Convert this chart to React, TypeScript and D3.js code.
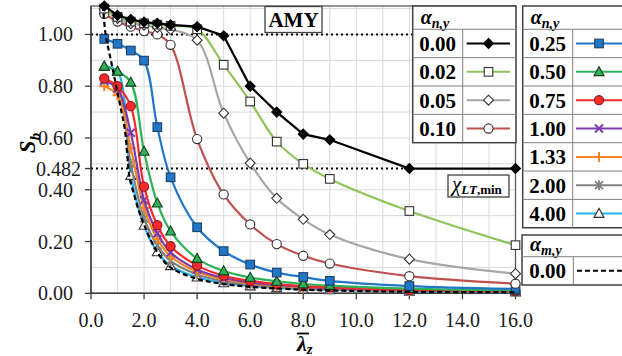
import React from "react";
import * as d3 from "d3";

// ---------- data ----------
const lambdas = [0.5, 1, 1.5, 2, 2.5, 3, 4, 5, 6, 7, 8, 9, 12, 16];

const s000 = [1.11, 1.074, 1.058, 1.048, 1.043, 1.037, 1.03, 0.995, 0.8, 0.7, 0.615, 0.593, 0.482, 0.482];
const s002 = [1.1, 1.068, 1.05, 1.043, 1.038, 1.033, 1.02, 0.883, 0.741, 0.586, 0.5, 0.442, 0.318, 0.186];
const s005 = [1.097, 1.062, 1.042, 1.036, 1.027, 1.019, 0.978, 0.696, 0.503, 0.367, 0.286, 0.227, 0.132, 0.076];
const s010 = [1.08, 1.05, 1.03, 1.013, 1.0, 0.96, 0.596, 0.382, 0.266, 0.19, 0.145, 0.115, 0.066, 0.037];
const s025 = [0.983, 0.964, 0.938, 0.899, 0.642, 0.448, 0.255, 0.163, 0.111, 0.08, 0.063, 0.048, 0.028, 0.017];
const s050 = [0.877, 0.857, 0.815, 0.548, 0.348, 0.24, 0.134, 0.086, 0.061, 0.046, 0.036, 0.03, 0.018, 0.011];
const s075 = [0.83, 0.8, 0.723, 0.412, 0.263, 0.182, 0.107, 0.068, 0.048, 0.036, 0.028, 0.023, 0.013, 0.008];
const s100 = [0.82, 0.79, 0.62, 0.36, 0.232, 0.158, 0.092, 0.059, 0.042, 0.032, 0.025, 0.02, 0.011, 0.007];
const s133 = [0.8, 0.765, 0.56, 0.33, 0.21, 0.143, 0.083, 0.054, 0.038, 0.029, 0.022, 0.018, 0.01, 0.006];
const s200 = [0.825, 0.795, 0.5, 0.29, 0.185, 0.125, 0.073, 0.047, 0.033, 0.025, 0.019, 0.015, 0.009, 0.005];
const s400 = [0.877, 0.857, 0.455, 0.262, 0.16, 0.106, 0.062, 0.04, 0.028, 0.021, 0.016, 0.013, 0.007, 0.004];

const dashX = [0.45, 0.55, 0.75, 0.95, 1.15, 1.28, 1.38, 1.45, 1.6, 1.8, 2.0, 2.5, 3, 4, 5, 6, 8, 10, 12, 16];
const dashY = [1.11, 1.0, 0.9, 0.8, 0.7, 0.63, 0.52, 0.45, 0.39, 0.32, 0.265, 0.158, 0.1, 0.056, 0.036, 0.025, 0.014, 0.009, 0.006, 0.004];

const seriesLabels1 = ["0.00", "0.02", "0.05", "0.10"];
const seriesLabels2 = ["0.25", "0.50", "0.75", "1.00", "1.33", "2.00", "4.00"];
const dashLabel = "0.00";

const xTicks = [0, 2, 4, 6, 8, 10, 12, 14, 16];
const yTicks = [0, 0.2, 0.4, 0.6, 0.8, 1.0];
const refLine = 0.482;

// ---------- styles ----------
const styles: Record<string, { color: string; marker: string; fill: string; stroke: string; linear?: boolean }> = {
  "0.00": { color: "#000000", marker: "diamond", fill: "#000000", stroke: "#000000", linear: true },
  "0.02": { color: "#8fc45a", marker: "square", fill: "#ffffff", stroke: "#333333" },
  "0.05": { color: "#a6a6a6", marker: "diamond", fill: "#ffffff", stroke: "#333333" },
  "0.10": { color: "#c0504d", marker: "circle", fill: "#ffffff", stroke: "#333333" },
  "0.25": { color: "#2176c7", marker: "square", fill: "#2176c7", stroke: "#1b3f66" },
  "0.50": { color: "#2fb15a", marker: "triangle", fill: "#2fb15a", stroke: "#16401f" },
  "0.75": { color: "#f52a2a", marker: "circle", fill: "#f52a2a", stroke: "#8a1a1a" },
  "1.00": { color: "#7a3cb0", marker: "x", fill: "none", stroke: "#7a3cb0" },
  "1.33": { color: "#f5841f", marker: "plus", fill: "none", stroke: "#f5841f" },
  "2.00": { color: "#808080", marker: "star", fill: "none", stroke: "#808080" },
  "4.00": { color: "#1fb3ea", marker: "triangle", fill: "#ffffff", stroke: "#333333" },
};

const seriesData: Record<string, number[]> = {
  "0.00": s000, "0.02": s002, "0.05": s005, "0.10": s010,
  "0.25": s025, "0.50": s050, "0.75": s075, "1.00": s100,
  "1.33": s133, "2.00": s200, "4.00": s400,
};

const drawOrder = ["4.00", "2.00", "1.33", "1.00", "0.75", "0.50", "0.25", "0.10", "0.05", "0.02", "0.00"];

const FONT = "Liberation Serif, serif";

const W = 622, H = 356;
const x = d3.scaleLinear().domain([0, 16]).range([91, 515.5]);
const y = d3.scaleLinear().domain([0, 1.11]).range([293.3, 6]);

function Marker({ type, cx, cy, fill, stroke }: { type: string; cx: number; cy: number; fill: string; stroke: string }) {
  const s = 4.3;
  switch (type) {
    case "diamond":
      return <path d={`M${cx},${cy - 5}L${cx + 5},${cy}L${cx},${cy + 5}L${cx - 5},${cy}Z`} fill={fill} stroke={stroke} strokeWidth={1.1} />;
    case "square":
      return <rect x={cx - s} y={cy - s} width={2 * s} height={2 * s} fill={fill} stroke={stroke} strokeWidth={1.1} />;
    case "circle":
      return <circle cx={cx} cy={cy} r={4.6} fill={fill} stroke={stroke} strokeWidth={1.1} />;
    case "triangle":
      return <path d={`M${cx},${cy - 5.2}L${cx + 5},${cy + 3.8}L${cx - 5},${cy + 3.8}Z`} fill={fill} stroke={stroke} strokeWidth={1.1} />;
    case "x":
      return <path d={`M${cx - 4},${cy - 4}L${cx + 4},${cy + 4}M${cx - 4},${cy + 4}L${cx + 4},${cy - 4}`} stroke={stroke} strokeWidth={2} fill="none" />;
    case "plus":
      return <path d={`M${cx - 5},${cy}L${cx + 5},${cy}M${cx},${cy - 5}L${cx},${cy + 5}`} stroke={stroke} strokeWidth={2} fill="none" />;
    case "star":
      return <path d={`M${cx - 4},${cy - 4}L${cx + 4},${cy + 4}M${cx - 4},${cy + 4}L${cx + 4},${cy - 4}M${cx},${cy - 5}L${cx},${cy + 5}`} stroke={stroke} strokeWidth={1.8} fill="none" />;
  }
  return null;
}

export default function App() {
  const smooth = d3.line<[number, number]>().x((d) => x(d[0])).y((d) => y(d[1])).curve(d3.curveCatmullRom.alpha(0.5));
  const straight = d3.line<[number, number]>().x((d) => x(d[0])).y((d) => y(d[1]));

  const gridX = d3.range(1, 16);
  const gridY = d3.range(1, 12).map((v) => v / 10);

  const dashPts: [number, number][] = dashX.map((v, i) => [v, dashY[i]]);

  const rowH1 = 28.35;
  const box1 = { x: 412.7, y: 6, w: 103.3, head: 23.3 };
  const box2 = { x: 522.7, y: 6, w: 120, head: 23.3 };
  const box3 = { x: 522, y: 235, w: 120, head: 21.7, row: 28.3 };

  const headerText = (tx: number, ty: number) => (
    <text x={tx} y={ty} fontFamily={FONT} fontStyle="italic" fontWeight="bold" fontSize={20} fill="#000">
      α<tspan fontSize={14} dy={4}>n,y</tspan>
    </text>
  );

  return (
    <div style={{ position: "absolute", left: 0, top: 0, width: W, height: H, background: "#fff" }}>
      <svg width={W} height={H} viewBox={`0 0 ${W} ${H}`} style={{ display: "block" }}>
        <rect x={0} y={0} width={W} height={H} fill="#fff" />
        <defs>
          <clipPath id="plotclip">
            <rect x={x(0)} y={0} width={x(16) - x(0) + 6} height={y(0) + 6} />
          </clipPath>
          <clipPath id="svgclip">
            <rect x={0} y={0} width={W} height={H} />
          </clipPath>
        </defs>

        {/* grid */}
        {gridX.map((g) => (
          <line key={"gx" + g} x1={x(g)} x2={x(g)} y1={y(0)} y2={y(1.11)} stroke="#d9d9d9" strokeWidth={1} />
        ))}
        {gridY.map((g) => (
          <line key={"gy" + g} x1={x(0)} x2={x(16)} y1={y(g)} y2={y(g)} stroke="#d9d9d9" strokeWidth={1} />
        ))}

        {/* frame */}
        <rect x={x(0)} y={y(1.11)} width={x(16) - x(0)} height={y(0) - y(1.11)} fill="none" stroke="#595959" strokeWidth={1.3} />

        {/* reference dotted lines */}
        <line x1={x(0)} x2={x(16)} y1={y(1)} y2={y(1)} stroke="#000" strokeWidth={2} strokeDasharray="2,3" />
        <line x1={x(0)} x2={x(12)} y1={y(refLine)} y2={y(refLine)} stroke="#000" strokeWidth={2} strokeDasharray="2,3" />

        {/* axes ticks */}
        {xTicks.map((t) => (
          <g key={"xt" + t}>
            <line x1={x(t)} x2={x(t)} y1={y(0)} y2={y(0) + 6} stroke="#404040" strokeWidth={1.3} />
            <text x={x(t)} y={327} textAnchor="middle" fontFamily={FONT} fontSize={20} fill="#1a1a1a">
              {t.toFixed(1)}
            </text>
          </g>
        ))}
        <line x1={x(0)} x2={x(16)} y1={y(0)} y2={y(0)} stroke="#404040" strokeWidth={1.5} />
        <line x1={x(0)} x2={x(0)} y1={y(0)} y2={y(1.11)} stroke="#404040" strokeWidth={1.5} />
        {yTicks.map((t) => (
          <g key={"yt" + t}>
            <line x1={x(0) - 6} x2={x(0)} y1={y(t)} y2={y(t)} stroke="#404040" strokeWidth={1.3} />
            <text x={73} y={y(t)} dy="0.35em" textAnchor="end" fontFamily={FONT} fontSize={20} fill="#1a1a1a">
              {t.toFixed(2)}
            </text>
          </g>
        ))}
        <line x1={x(0) - 6} x2={x(0)} y1={y(refLine)} y2={y(refLine)} stroke="#404040" strokeWidth={1.3} />
        <text x={81} y={y(refLine)} dy="0.35em" textAnchor="end" fontFamily={FONT} fontSize={20} fill="#1a1a1a">
          {refLine.toFixed(3)}
        </text>

        {/* series */}
        <g clipPath="url(#plotclip)">
          {drawOrder.map((k) => {
            const st = styles[k];
            const pts: [number, number][] = lambdas.map((l, i) => [l, seriesData[k][i]]);
            return (
              <g key={"s" + k}>
                <path d={(st.linear ? straight : smooth)(pts) || ""} fill="none" stroke={st.color} strokeWidth={2.2} />
                {pts.map((p, i) => (
                  <Marker key={i} type={st.marker} cx={x(p[0])} cy={y(p[1])} fill={st.fill} stroke={st.stroke} />
                ))}
              </g>
            );
          })}
          <path d={smooth(dashPts) || ""} fill="none" stroke="#000" strokeWidth={2.2} strokeDasharray="5,3" />
        </g>

        {/* AMY label */}
        <rect x={265} y={6.5} width={57} height={26} fill="#fff" stroke="#404040" strokeWidth={1.3} />
        <text x={293.5} y={27} textAnchor="middle" fontFamily={FONT} fontWeight="bold" fontSize={21} fill="#000">AMY</text>

        {/* chi label */}
        <rect x={448} y={175} width={61} height={22} fill="#fff" stroke="#404040" strokeWidth={1.3} />
        <text x={452} y={191} fontFamily={FONT} fontSize={21} fill="#000">
          <tspan fontStyle="italic">χ</tspan>
          <tspan fontSize={13} dy={3} fontStyle="italic" fontWeight="bold">LT</tspan>
          <tspan fontSize={13} fontWeight="bold">,min</tspan>
        </text>

        {/* legend box 1 */}
        <g>
          <rect x={box1.x} y={box1.y} width={box1.w} height={box1.head + rowH1 * 4} fill="#fff" stroke="#404040" strokeWidth={1.5} />
          {headerText(box1.x + 8, box1.y + 18)}
          {seriesLabels1.map((k, i) => {
            const ry = box1.y + box1.head + rowH1 * i;
            const cy = ry + rowH1 / 2;
            const st = styles[k];
            return (
              <g key={"l1" + k}>
                <line x1={box1.x} x2={box1.x + box1.w} y1={ry} y2={ry} stroke="#808080" strokeWidth={1} />
                <text x={box1.x + 25} y={cy} dy="0.35em" textAnchor="middle" fontFamily={FONT} fontWeight="bold" fontSize={21} fill="#000">{k}</text>
                <line x1={466.7} x2={510} y1={cy} y2={cy} stroke={st.color} strokeWidth={2} />
                <Marker type={st.marker} cx={488.5} cy={cy} fill={st.fill} stroke={st.stroke} />
              </g>
            );
          })}
          <line x1={462.7} x2={462.7} y1={box1.y + box1.head} y2={box1.y + box1.head + rowH1 * 4} stroke="#808080" strokeWidth={1} />
        </g>

        {/* legend box 2 */}
        <g clipPath="url(#svgclip)">
          <rect x={box2.x} y={box2.y} width={box2.w} height={box2.head + rowH1 * 7} fill="#fff" stroke="#404040" strokeWidth={1.5} />
          {headerText(box2.x + 8, box2.y + 18)}
          {seriesLabels2.map((k, i) => {
            const ry = box2.y + box2.head + rowH1 * i;
            const cy = ry + rowH1 / 2;
            const st = styles[k];
            return (
              <g key={"l2" + k}>
                <line x1={box2.x} x2={box2.x + box2.w} y1={ry} y2={ry} stroke="#808080" strokeWidth={1} />
                <text x={box2.x + 25} y={cy} dy="0.35em" textAnchor="middle" fontFamily={FONT} fontWeight="bold" fontSize={21} fill="#000">{k}</text>
                <line x1={576} x2={630} y1={cy} y2={cy} stroke={st.color} strokeWidth={2} />
                <Marker type={st.marker} cx={599} cy={cy} fill={st.fill} stroke={st.stroke} />
              </g>
            );
          })}
          <line x1={572.7} x2={572.7} y1={box2.y + box2.head} y2={box2.y + box2.head + rowH1 * 7} stroke="#808080" strokeWidth={1} />
        </g>

        {/* legend box 3 */}
        <g>
          <rect x={box3.x} y={box3.y} width={box3.w} height={box3.head + box3.row} fill="#fff" stroke="#404040" strokeWidth={1.5} />
          <text x={box3.x + 8} y={box3.y + 16} fontFamily={FONT} fontStyle="italic" fontWeight="bold" fontSize={20} fill="#000">
            α<tspan fontSize={14} dy={4}>m,y</tspan>
          </text>
          <line x1={box3.x} x2={box3.x + box3.w} y1={box3.y + box3.head} y2={box3.y + box3.head} stroke="#808080" strokeWidth={1} />
          <text x={box3.x + 25.7} y={box3.y + box3.head + box3.row / 2} dy="0.35em" textAnchor="middle" fontFamily={FONT} fontWeight="bold" fontSize={21} fill="#000">{dashLabel}</text>
          <line x1={573.3} x2={573.3} y1={box3.y + box3.head} y2={box3.y + box3.head + box3.row} stroke="#808080" strokeWidth={1} />
          <line x1={577} x2={630} y1={box3.y + box3.head + box3.row / 2} y2={box3.y + box3.head + box3.row / 2} stroke="#000" strokeWidth={2} strokeDasharray="5,3" />
        </g>

        {/* axis titles */}
        <text transform="translate(35,143) rotate(-90)" textAnchor="middle" fontFamily={FONT} fontStyle="italic" fontWeight="bold" fontSize={23} fill="#000">
          S<tspan fontSize={15} dy={5}>b</tspan>
        </text>
        <g>
          <text x={297} y={351} fontFamily={FONT} fontStyle="italic" fontWeight="bold" fontSize={22} fill="#000">
            λ<tspan fontSize={15} dy={3}>z</tspan>
          </text>
          <line x1={297} x2={309} y1={333.5} y2={333.5} stroke="#000" strokeWidth={1.8} />
        </g>
      </svg>
    </div>
  );
}
